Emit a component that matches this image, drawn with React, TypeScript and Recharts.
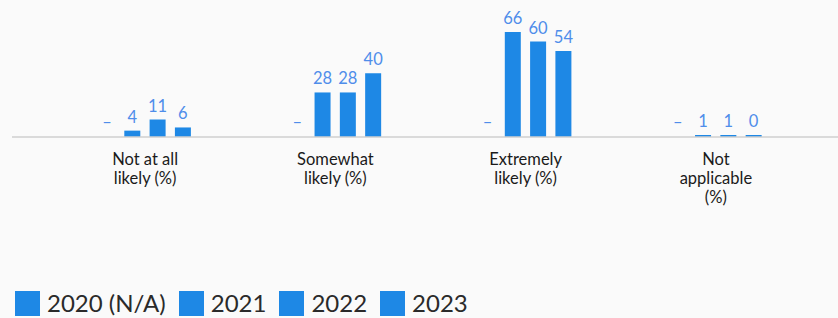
import { BarChart, Bar, XAxis, YAxis, LabelList } from "recharts";

const categories = [
  "Not at all likely (%)",
  "Somewhat likely (%)",
  "Extremely likely (%)",
  "Not applicable (%)",
];
const tickLines = [
  ["Not at all", "likely (%)"],
  ["Somewhat", "likely (%)"],
  ["Extremely", "likely (%)"],
  ["Not", "applicable", "(%)"],
];
const seriesNames = ["2020 (N/A)", "2021", "2022", "2023"];
const values2020: (number | null)[] = [null, null, null, null];
const values2021 = [4, 28, 66, 1];
const values2022 = [11, 28, 60, 1];
const values2023 = [6, 40, 54, 0];

const BLUE = "#1e88e5";
const LABEL_BLUE = "#4f8dea";
const FONT = "Lato, 'Open Sans', sans-serif";

const data = categories.map((c, i) => ({
  name: c,
  y2020: values2020[i] ?? 0,
  y2021: values2021[i],
  y2022: values2022[i],
  y2023: values2023[i],
}));

const CategoryTick = (props: any) => {
  const { x, y, payload } = props;
  const lines = tickLines[payload.index] ?? [payload.value];
  return (
    <g transform={`translate(${x},${y})`}>
      {lines.map((l: string, i: number) => (
        <text
          key={i}
          x={0}
          y={20 + i * 19}
          textAnchor="middle"
          fill="#1a1a1a"
          fontSize={16.5}
          fontFamily={FONT}
        >
          {l}
        </text>
      ))}
    </g>
  );
};

const keys = ["y2020", "y2021", "y2022", "y2023"];

export default function App() {
  return (
    <div
      style={{
        position: "absolute",
        left: 0,
        top: 0,
        width: 838,
        height: 318,
        background: "#fafafa",
        overflow: "hidden",
        fontFamily: FONT,
      }}
    >
      <BarChart
        width={838}
        height={210}
        data={data}
        margin={{ top: 32, right: 0, left: 12, bottom: 0 }}
        barSize={16}
        barGap={9.3}
      >
        <XAxis
          dataKey="name"
          height={73}
          padding={{ left: 38, right: 27 }}
          axisLine={{ stroke: "#cfcfcf", strokeWidth: 1.5 }}
          tickLine={false}
          interval={0}
          tick={<CategoryTick />}
        />
        <YAxis hide domain={[0, 66]} />
        {keys.map((k, si) => (
          <Bar
            key={k}
            dataKey={k}
            name={seriesNames[si]}
            fill={BLUE}
            minPointSize={si === 0 ? 0.01 : 2}
            isAnimationActive={false}
          >
            <LabelList
              dataKey={k}
              position="top"
              offset={si === 0 ? 9 : 8}
              fill={LABEL_BLUE}
              fontSize={16.5}
              fontFamily={FONT}
              formatter={(v: any) => (si === 0 ? "–" : v)}
            />
          </Bar>
        ))}
      </BarChart>
      <div
        style={{
          position: "absolute",
          left: 15,
          top: 288,
          display: "flex",
          alignItems: "center",
          whiteSpace: "nowrap",
        }}
      >
        {seriesNames.map((n) => (
          <div
            key={n}
            style={{ display: "flex", alignItems: "center", marginRight: 13 }}
          >
            <span
              style={{
                display: "inline-block",
                width: 25,
                height: 25,
                background: BLUE,
                marginRight: 7,
              }}
            />
            <span style={{ fontSize: 24, color: "#2a2a2a", lineHeight: "30px" }}>
              {n}
            </span>
          </div>
        ))}
      </div>
    </div>
  );
}
